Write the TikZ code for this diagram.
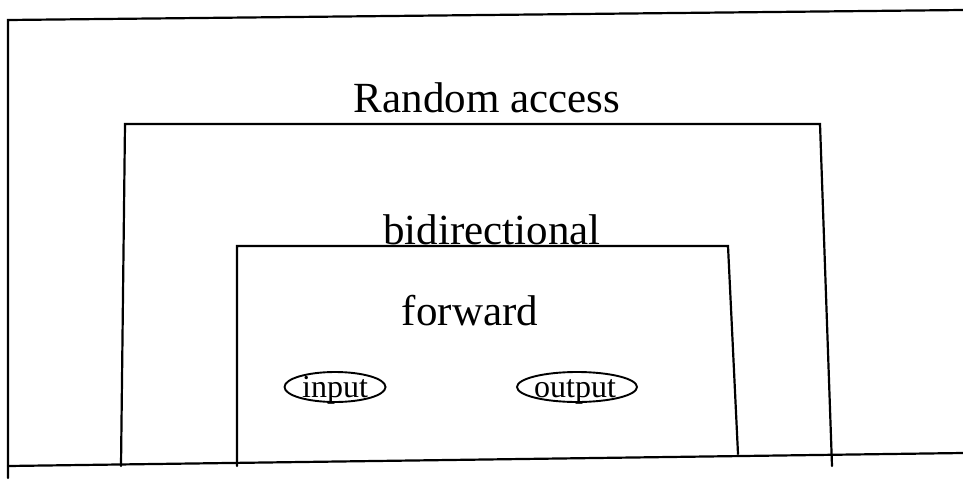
\documentclass[tikz,border=0pt]{standalone}
\usepackage{fontspec}
\setmainfont{Liberation Serif}
\usetikzlibrary{shapes.geometric}
\tikzset{
  wall/.style={line width=2.2pt, line cap=round},
  biglabel/.style={font=\fontsize{43}{43}\selectfont, inner sep=0pt},
  portshape/.style={ellipse, draw, line width=1.9pt, inner sep=0pt, minimum height=30pt},
  portlabel/.style={inner sep=0pt, anchor=base, font=\fontsize{32}{32}\selectfont}
}
\begin{document}
\begin{tikzpicture}[x=1pt,y=-1pt]
\useasboundingbox (0,0) rectangle (963,479);
% outer frame
\draw[wall] (963,10) -- (8,20) -- (8,478);
\draw[wall] (8,466) -- (963,453);
% random access box
\draw[wall] (121,466) -- (125,124) -- (820,124) -- (832,466);
% bidirectional box
\draw[wall] (237,466) -- (237,246) -- (728,246) -- (738,454);
% labels
\node[biglabel] (ra) at (487,98) {Random access};
\node[biglabel] (bi) at (492,230) {bidirectional};
\node[biglabel] (fw) at (470,311) {forward};
\node[portshape, minimum width=101pt] (in) at (335,387) {};
\node[portlabel] (inl) at (335,397) {input};
\node[portshape, minimum width=120pt] (out) at (577,387) {};
\node[portlabel] (outl) at (575,397) {output};
\end{tikzpicture}
\end{document}
